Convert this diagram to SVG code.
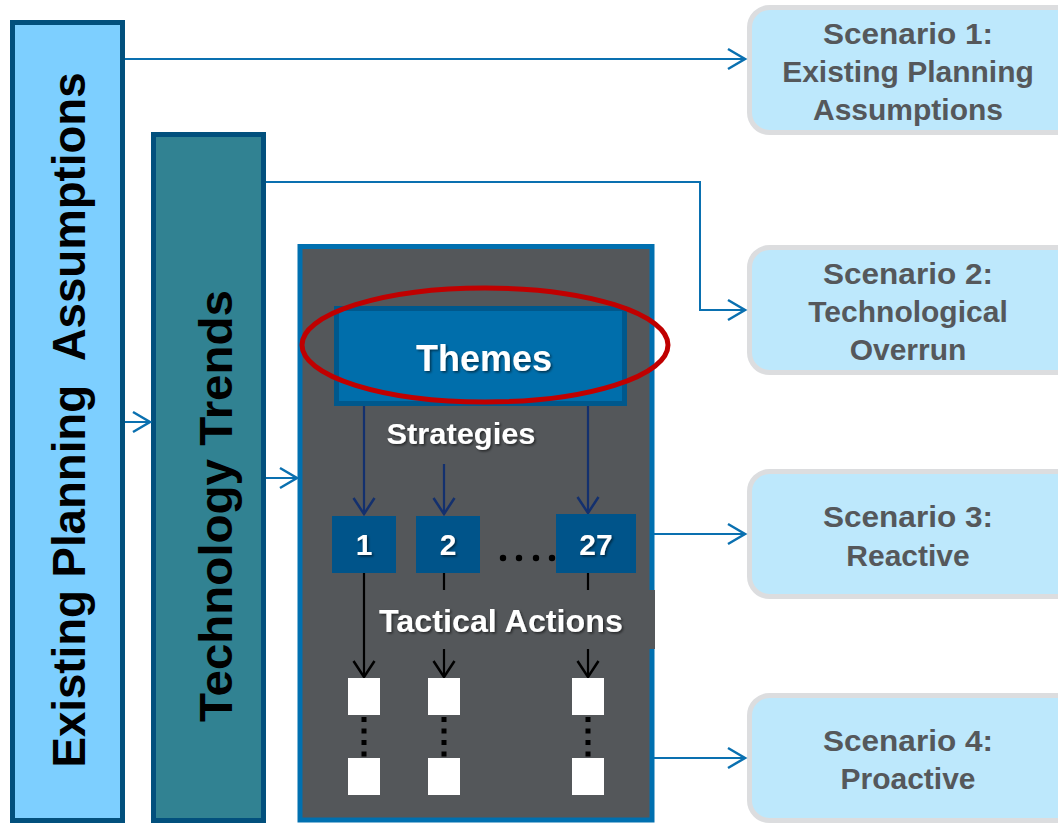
<svg xmlns="http://www.w3.org/2000/svg" width="1058" height="823" viewBox="0 0 1058 823">
<defs>
<style>
.bar{stroke:#02507d;stroke-width:5}
.scn rect{fill:#bde8fc;stroke:#dcdddf;stroke-width:5}
.scn text{font-family:"Liberation Sans",Arial,sans-serif;font-weight:bold;font-size:30px;fill:#55585b;text-anchor:middle}
.vt{font-family:"Liberation Sans",Arial,sans-serif;font-weight:bold;fill:#000;text-anchor:middle}
.wt{font-family:"Liberation Sans",Arial,sans-serif;font-weight:bold;fill:#fff;text-anchor:middle}
.blue{stroke:#0a70b0;stroke-width:2;fill:none}
.navy{stroke:#13306e;stroke-width:2.2;fill:none}
.blk{stroke:#000;stroke-width:2.2;fill:none}
.num{fill:#00548a}
.sq{fill:#fff}
</style>
<filter id="sh" x="-10%" y="-20%" width="130%" height="150%">
<feDropShadow dx="1.5" dy="1.5" stdDeviation="1" flood-color="#000" flood-opacity="0.55"/>
</filter>
<marker id="ab" markerUnits="userSpaceOnUse" markerWidth="22" markerHeight="26" refX="19" refY="12" orient="auto">
<path d="M2,2 L19,12 L2,22" fill="none" stroke="#0a70b0" stroke-width="2.5"/>
</marker>
<marker id="an" markerUnits="userSpaceOnUse" markerWidth="22" markerHeight="26" refX="19" refY="12" orient="auto">
<path d="M3,1.5 L19,12 L3,22.5" fill="none" stroke="#13306e" stroke-width="2.5"/>
</marker>
<marker id="ak" markerUnits="userSpaceOnUse" markerWidth="22" markerHeight="26" refX="19" refY="12" orient="auto">
<path d="M3,1.5 L19,12 L3,22.5" fill="none" stroke="#000" stroke-width="2.5"/>
</marker>
</defs>
<rect width="1058" height="823" fill="#fff"/>

<g id="existing-planning">
<rect class="bar" x="12.5" y="22.5" width="110" height="798" fill="#7dcfff"/>
<text class="vt" transform="translate(85,420) rotate(-90)" font-size="46" textLength="695" lengthAdjust="spacingAndGlyphs" xml:space="preserve">Existing Planning  Assumptions</text>
</g>

<g id="technology-trends">
<rect class="bar" x="153.5" y="134.5" width="110" height="686" fill="#318292"/>
<text class="vt" transform="translate(232,506) rotate(-90)" font-size="46" textLength="432" lengthAdjust="spacingAndGlyphs">Technology Trends</text>
</g>

<g id="strategy-box">
<rect x="300" y="246.5" width="352" height="573.5" fill="#54575a" stroke="#0070b0" stroke-width="5"/>
</g>

<g id="scenario-1" class="scn">
<rect x="749.5" y="7.5" width="330" height="125" rx="20"/>
<text x="908" y="44" textLength="170" lengthAdjust="spacingAndGlyphs">Scenario 1:</text>
<text x="908" y="82">Existing Planning</text>
<text x="908" y="120">Assumptions</text>
</g>
<g id="scenario-2" class="scn">
<rect x="749.5" y="247.5" width="330" height="125" rx="20"/>
<text x="908" y="284" textLength="170" lengthAdjust="spacingAndGlyphs">Scenario 2:</text>
<text x="908" y="322">Technological</text>
<text x="908" y="360">Overrun</text>
</g>
<g id="scenario-3" class="scn">
<rect x="749.5" y="471.5" width="330" height="125" rx="20"/>
<text x="908" y="527" textLength="170" lengthAdjust="spacingAndGlyphs">Scenario 3:</text>
<text x="908" y="566">Reactive</text>
</g>
<g id="scenario-4" class="scn">
<rect x="749.5" y="695.5" width="330" height="125" rx="20"/>
<text x="908" y="751" textLength="170" lengthAdjust="spacingAndGlyphs">Scenario 4:</text>
<text x="908" y="789">Proactive</text>
</g>

<g id="connectors">
<path class="blue" d="M125,59 H745" marker-end="url(#ab)"/>
<path class="blue" d="M266,182 H700 V310 H745" marker-end="url(#ab)"/>
<path class="blue" d="M125,422 H150" marker-end="url(#ab)"/>
<path class="blue" d="M266,478 H297" marker-end="url(#ab)"/>
<path class="blue" d="M654,534 H745" marker-end="url(#ab)"/>
<path class="blue" d="M654,758 H745" marker-end="url(#ab)"/>
<path class="navy" d="M364,406 V514" marker-end="url(#an)"/>
<path class="navy" d="M444,464 V514" marker-end="url(#an)"/>
<path class="navy" d="M588,406 V513" marker-end="url(#an)"/>
<path class="blk" d="M364,573 V677" marker-end="url(#ak)"/>
<path class="blk" d="M444,573 V677" marker-end="url(#ak)"/>
<path class="blk" d="M588,573 V677" marker-end="url(#ak)"/>
<path d="M364,717 V758 M444,717 V758 M588,717 V758" stroke="#000" stroke-width="5" stroke-dasharray="5 6.5" fill="none"/>
</g>

<g id="themes">
<rect x="336.5" y="308.5" width="288" height="95" fill="#006eab" stroke="#00588c" stroke-width="5"/>
<text class="wt" x="484" y="371" font-size="37" textLength="136" lengthAdjust="spacingAndGlyphs" filter="url(#sh)">Themes</text>
<ellipse cx="485" cy="345" rx="183" ry="57" fill="none" stroke="#c00000" stroke-width="5"/>
</g>

<g id="strategies-label">
<text class="wt" x="461" y="444" font-size="29" textLength="149" lengthAdjust="spacingAndGlyphs" filter="url(#sh)">Strategies</text>
</g>

<g id="strategy-1">
<rect class="num" x="332" y="516" width="64" height="57"/>
<text class="wt" x="364" y="555" font-size="30" filter="url(#sh)">1</text>
</g>
<g id="strategy-2">
<rect class="num" x="416" y="516" width="64" height="57"/>
<text class="wt" x="448" y="555" font-size="30" filter="url(#sh)">2</text>
</g>
<g id="ellipsis">
<circle cx="503" cy="558" r="3.2"/>
<circle cx="519" cy="558" r="3.2"/>
<circle cx="536" cy="558" r="3.2"/>
<circle cx="552" cy="558" r="3.2"/>
</g>
<g id="strategy-27">
<rect class="num" x="556" y="514" width="80" height="59"/>
<text class="wt" x="596" y="555" font-size="30" filter="url(#sh)">27</text>
</g>

<g id="tactical-actions-label">
<rect x="372" y="590" width="283" height="59" fill="#54575a"/>
<text class="wt" x="501" y="632" font-size="31" textLength="244" lengthAdjust="spacingAndGlyphs" filter="url(#sh)">Tactical Actions</text>
</g>

<g id="actions-1">
<rect class="sq" x="348" y="678" width="32" height="37"/>
<rect class="sq" x="348" y="758" width="32" height="37"/>
</g>
<g id="actions-2">
<rect class="sq" x="428" y="678" width="32" height="37"/>
<rect class="sq" x="428" y="758" width="32" height="37"/>
</g>
<g id="actions-27">
<rect class="sq" x="572" y="678" width="32" height="37"/>
<rect class="sq" x="572" y="758" width="32" height="37"/>
</g>
</svg>
